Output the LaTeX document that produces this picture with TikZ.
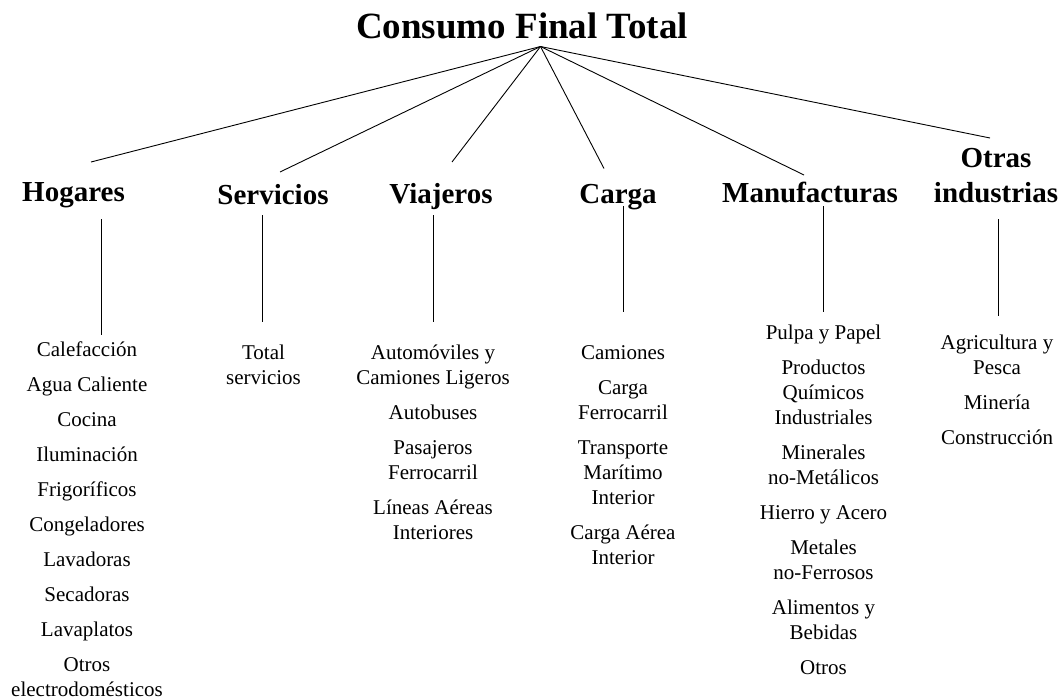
\documentclass[tikz,border=0pt]{standalone}
\usepackage{fontspec}
\setmainfont{Liberation Serif}
\begin{document}
\begin{tikzpicture}[x=1pt,y=-1pt,line width=0.9pt,
  titlebox/.style={font=\bfseries\fontsize{37}{44}\selectfont,inner sep=0pt,anchor=base},
  catbox/.style={font=\bfseries\fontsize{29}{35.5}\selectfont,inner sep=0pt,anchor=base,align=center},
  itembox/.style={font=\fontsize{21}{25}\selectfont,inner sep=0pt,anchor=north,align=center},
  link/.style={draw=black,line width=0.9pt}]
\useasboundingbox (0,0) rectangle (1059,699);
\node[titlebox] (root) at (522,38) {Consumo Final Total};
\coordinate (apex) at (540.5,46.5);
% categories
\node[catbox] (hog) at (73.5,201.5) {Hogares};
\node[catbox] (ser) at (273,204) {Servicios};
\node[catbox] (via) at (441,203.5) {Viajeros};
\node[catbox] (car) at (618,203.5) {Carga};
\node[catbox] (man) at (810,202.5) {Manufacturas};
\node[catbox] (otr) at (996,202.5) {Otras\\industrias};
% ends of the fan
\coordinate (hogE) at (91,162);
\coordinate (serE) at (280,172);
\coordinate (viaE) at (452,162);
\coordinate (carE) at (604,168.5);
\coordinate (manE) at (804,175);
\coordinate (otrE) at (990,138);
\foreach \e in {hogE,serE,viaE,carE,manE,otrE}{\draw[link] (apex) -- (\e);}
% lists
\node[itembox] (hogL) at (87,338.5) {\strut Calefacción\\[10pt]Agua Caliente\\[10pt]Cocina\\[10pt]Iluminación\\[10pt]Frigoríficos\\[10pt]Congeladores\\[10pt]Lavadoras\\[10pt]Secadoras\\[10pt]Lavaplatos\\[10pt]Otros\\electrodomésticos};
\node[itembox] (serL) at (263.5,341.5) {\strut Total\\servicios};
\node[itembox] (viaL) at (433,341.5) {\strut Automóviles y\\Camiones Ligeros\\[10pt]Autobuses\\[10pt]Pasajeros\\Ferrocarril\\[10pt]Líneas Aéreas\\Interiores};
\node[itembox] (carL) at (623,341.5) {\strut Camiones\\[10pt]Carga\\Ferrocarril\\[10pt]Transporte\\Marítimo\\Interior\\[10pt]Carga Aérea\\Interior};
\node[itembox] (manL) at (823.5,321.5) {\strut Pulpa y Papel\\[10pt]Productos\\Químicos\\Industriales\\[10pt]Minerales\\no-Metálicos\\[10pt]Hierro y Acero\\[10pt]Metales\\no-Ferrosos\\[10pt]Alimentos y\\Bebidas\\[10pt]Otros};
\node[itembox] (otrL) at (997,331.5) {\strut Agricultura y\\Pesca\\[10pt]Minería\\[10pt]Construcción};
% vertical links
\coordinate (hogA) at (101,219);   \coordinate (hogB) at (101,335);
\coordinate (serA) at (262.5,215); \coordinate (serB) at (262.5,322);
\coordinate (viaA) at (433.5,215); \coordinate (viaB) at (433.5,322);
\coordinate (carA) at (623,206);   \coordinate (carB) at (623,312);
\coordinate (manA) at (823,206);   \coordinate (manB) at (823,312);
\coordinate (otrA) at (998.6,219); \coordinate (otrB) at (998.6,315.6);
\foreach \c in {hog,ser,via,car,man,otr}{\draw[link] (\c A) -- (\c B);}
\end{tikzpicture}
\end{document}
